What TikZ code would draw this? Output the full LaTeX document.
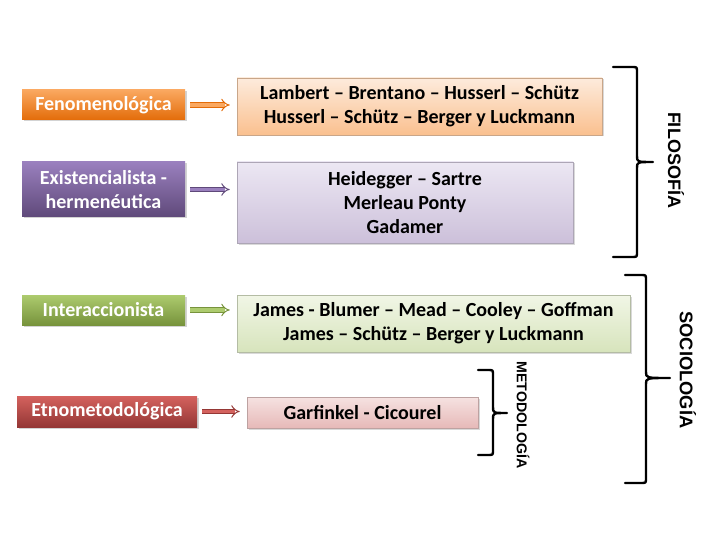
\documentclass[tikz,border=0pt]{standalone}
\usepackage{fontspec}
\setmainfont{Carlito}
\newfontfamily\arialfont{Liberation Sans}
\usetikzlibrary{arrows.meta,shadows}
\definecolor{naranjaA}{HTML}{FAA860}
\definecolor{naranjaB}{HTML}{E36C09}
\definecolor{naranjaC}{HTML}{FDEBDC}
\definecolor{naranjaD}{HTML}{FAC08F}
\definecolor{moradoA}{HTML}{9A80BE}
\definecolor{moradoB}{HTML}{5F497A}
\definecolor{moradoC}{HTML}{ECE7F3}
\definecolor{moradoD}{HTML}{CCC0DA}
\definecolor{verdeA}{HTML}{ADCB6E}
\definecolor{verdeB}{HTML}{77933C}
\definecolor{verdeC}{HTML}{F1F6E6}
\definecolor{verdeD}{HTML}{D7E4BC}
\definecolor{rojoA}{HTML}{D4625E}
\definecolor{rojoB}{HTML}{953735}
\definecolor{rojoC}{HTML}{F6E2E1}
\definecolor{rojoD}{HTML}{E6B9B8}
\newcommand{\llave}[6]{\draw[llave] (#1,#4) -- (#2-5,#4) .. controls (#2,#4) .. (#2,#4+5)
  -- (#2,#5-6) .. controls (#2,#5) .. (#3,#5) .. controls (#2,#5) .. (#2,#5+6)
  -- (#2,#6-5) .. controls (#2,#6) .. (#2-5,#6) -- (#1,#6);}

\begin{document}
\begin{tikzpicture}[x=1pt,y=-1pt]
      \tikzstyle{escuela}=[text=white,font=\fontsize{20}{24}\selectfont\bfseries,
			   align=center,inner sep=0pt,
			   drop shadow={opacity=0.35,shadow xshift=1.5pt,shadow yshift=-1.5pt}]
      \tikzstyle{autores}=[text=black,font=\fontsize{20}{24}\selectfont\bfseries,
			   align=center,inner sep=0pt,line width=0.6pt,
			   drop shadow={opacity=0.3,shadow xshift=1.5pt,shadow yshift=-1.5pt}]
      \tikzstyle{flecha}=[-{Implies},line width=1pt,double distance=3.4pt,
			  shorten <=5pt,shorten >=7pt]
      \tikzstyle{llave}=[line width=2.4pt,line cap=round,line join=round]
      \useasboundingbox (0,0) rectangle (720,540);
      % escuelas
      \node[escuela,top color=naranjaA,bottom color=naranjaB,
	    minimum width=163,minimum height=30] (esc1) at (103.5,105) {Fenomenológica};
      \node[escuela,top color=moradoA,bottom color=moradoB,
	    minimum width=163,minimum height=55] (esc2) at (103.5,189.5)
	    {Existencialista -\\hermenéutica};
      \node[escuela,top color=verdeA,bottom color=verdeB,
	    minimum width=163,minimum height=30] (esc3) at (103.5,310) {Interaccionista};
      \node[escuela,top color=rojoA,bottom color=rojoB,
	    minimum width=180,minimum height=31] (esc4) at (107,411.5) {Etnometodológica};
      % autores
      \node[autores,draw=naranjaD!60!gray,top color=naranjaC,bottom color=naranjaD,
	    minimum width=365,minimum height=57] (aut1) at (419.5,106.5)
	    {Lambert – Brentano – Husserl – Schütz\\Husserl – Schütz – Berger y Luckmann};
      \node[autores,draw=moradoD!60!gray,top color=moradoC,bottom color=moradoD,
	    minimum width=336,minimum height=81] (aut2) at (405,202.5)
	    {Heidegger – Sartre\\Merleau Ponty\\Gadamer};
      \node[autores,draw=verdeD!60!gray,top color=verdeC,bottom color=verdeD,
	    minimum width=393,minimum height=57] (aut3) at (433.5,323.5)
	    {James - Blumer – Mead – Cooley – Goffman\\James – Schütz – Berger y Luckmann};
      \node[autores,draw=rojoD!60!gray,top color=rojoC,bottom color=rojoD,
	    minimum width=231,minimum height=31] (aut4) at (362.5,412.5) {Garfinkel - Cicourel};
      % flechas
      \draw[flecha,draw=naranjaB,double=naranjaA] (esc1.east) -- (esc1.east -| aut1.west);
      \draw[flecha,draw=moradoB,double=moradoA] (esc2.east) -- (esc2.east -| aut2.west);
      \draw[flecha,draw=verdeB,double=verdeA] (esc3.east) -- (esc3.east -| aut3.west);
      \draw[flecha,draw=rojoB,double=rojoA] (esc4.east) -- (esc4.east -| aut4.west);
      % llaves
      \llave{613}{637}{653}{67}{162}{257}
      \llave{625}{646}{670}{275}{378}{483}
      \llave{478}{493}{507}{370}{413}{455}
      \node[rotate=-90,font=\arialfont\bfseries\fontsize{18}{20}\selectfont]
	    (filosofia) at (676,160) {FILOSOFÍA};
      \node[rotate=-90,font=\arialfont\bfseries\fontsize{18.3}{20}\selectfont]
	    (sociologia) at (688,370) {SOCIOLOGÍA};
      \node[rotate=-90,font=\arialfont\bfseries\fontsize{14.2}{16}\selectfont]
	    (metodologia) at (523,415) {METODOLOGÍA};
  \end{tikzpicture}
\end{document}
